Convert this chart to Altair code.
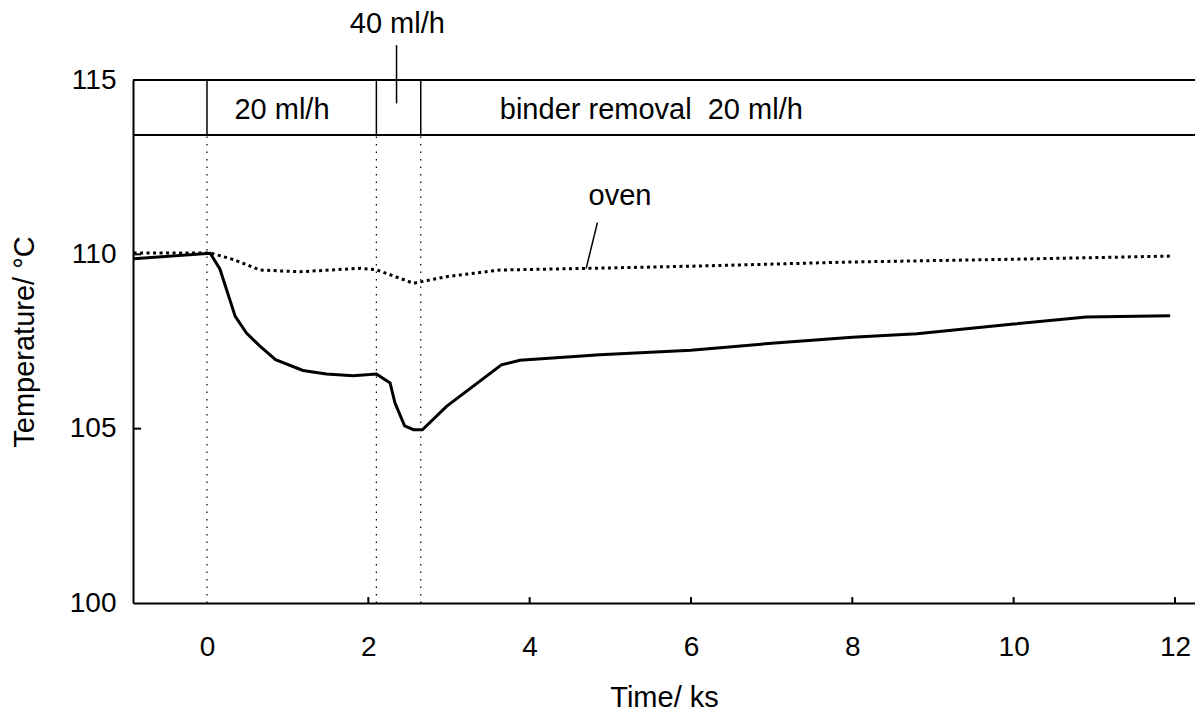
import altair as alt
import pandas as pd

# ---- data ----
sample_t = [-0.91, 0.04, 0.16, 0.35, 0.49, 0.66, 0.85, 1.19, 1.48, 1.81, 2.10, 2.27, 2.33, 2.45,
            2.56, 2.67, 2.97, 3.65, 3.88, 4.87, 6.0, 7.0, 8.0, 8.8, 10.0, 10.9, 11.94]
sample_temp = [109.87, 110.03, 109.58, 108.22, 107.74, 107.36, 106.98, 106.67, 106.57, 106.52,
               106.57, 106.31, 105.74, 105.08, 104.97, 104.97, 105.64, 106.83, 106.96, 107.12,
               107.25, 107.45, 107.62, 107.72, 108.0, 108.2, 108.24]

oven_t = [-0.91, 0.04, 0.33, 0.66, 1.15, 1.90, 2.10, 2.56, 2.97, 3.63, 4.79, 6.0, 8.0, 10.0, 11.94]
oven_temp = [110.04, 110.04, 109.85, 109.55, 109.5, 109.6, 109.56, 109.17, 109.36, 109.55,
             109.6, 109.66, 109.78, 109.86, 109.95]

phase_bounds = [0.0, 2.1, 2.65]
x_ticks = [0, 2, 4, 6, 8, 10, 12]
y_ticks = [100, 105, 110, 115]
x_min, x_max = -0.917, 12.248
y_min, y_max = 100, 115
band_bottom = 113.42

labels = ["40 ml/h", "20 ml/h", "binder removal\u00a0 20 ml/h", "oven"]
label_x = [2.36, 0.93, 3.63, 5.12]
label_y = [116.35, 113.88, 113.88, 111.42]
label_align = ["center", "center", "left", "center"]

FONT = "Liberation Sans"

xs = alt.Scale(domain=[x_min, x_max], nice=False, zero=False)
ys = alt.Scale(domain=[y_min, y_max], nice=False, zero=False)
X = alt.X("x:Q", scale=xs, axis=alt.Axis(values=x_ticks, ticks=False, grid=False, domainColor="black",
                                         domainWidth=2, labelFontSize=28, labelFont=FONT,
                                         labelColor="black", labelPadding=30, title="Time/ ks",
                                         titleFont=FONT, titleFontSize=29, titleFontWeight="normal",
                                         titleColor="black", titlePadding=22))
Y = alt.Y("y:Q", scale=ys, axis=alt.Axis(values=y_ticks, ticks=False, grid=False, domainColor="black",
                                         domainWidth=2, labelFontSize=28, labelFont=FONT,
                                         labelColor="black", labelPadding=17,
                                         title="Temperature/ °C", titleFont=FONT, titleFontSize=29,
                                         titleFontWeight="normal", titleColor="black", titlePadding=30))

sample_df = pd.DataFrame({"x": sample_t, "y": sample_temp})
oven_df = pd.DataFrame({"x": oven_t, "y": oven_temp})

sample_line = alt.Chart(sample_df).mark_line(color="black", strokeWidth=3).encode(x=X, y=Y)
oven_line = alt.Chart(oven_df).mark_line(color="black", strokeWidth=3, strokeDash=[3, 3.5]).encode(x=X, y=Y)

# top band horizontal lines
band_h = pd.DataFrame({"x": [x_min, x_min], "x2": [x_max, x_max], "y": [y_max, band_bottom]})
band_lines = alt.Chart(band_h).mark_rule(color="black", strokeWidth=2).encode(
    x=X, x2="x2:Q", y=Y)

# band separators
sep_df = pd.DataFrame({"x": phase_bounds, "y": [band_bottom] * 3, "y2": [y_max] * 3})
sep_lines = alt.Chart(sep_df).mark_rule(color="black", strokeWidth=1.5).encode(x=X, y=Y, y2="y2:Q")

# dotted verticals
dot_df = pd.DataFrame({"x": phase_bounds, "y": [y_min] * 3, "y2": [band_bottom] * 3})
dot_lines = alt.Chart(dot_df).mark_rule(color="black", strokeWidth=1.2, strokeDash=[1.5, 6]).encode(
    x=X, y=Y, y2="y2:Q")

# inward ticks
xt_df = pd.DataFrame({"x": x_ticks[1:], "y": [y_min] * 6, "y2": [y_min + 0.17] * 6})
xt = alt.Chart(xt_df).mark_rule(color="black", strokeWidth=2).encode(x=X, y=Y, y2="y2:Q")
yt_df = pd.DataFrame({"x": [x_min, x_min], "x2": [x_min + 0.1, x_min + 0.1], "y": [105, 110]})
yt = alt.Chart(yt_df).mark_rule(color="black", strokeWidth=2).encode(x=X, x2="x2:Q", y=Y)

# leader lines
lead_df = pd.DataFrame({"x": [2.35, 4.84], "x2": [2.35, 4.70], "y": [116.0, 110.91], "y2": [114.33, 109.59]})
leaders = alt.Chart(lead_df).mark_rule(color="black", strokeWidth=1.5).encode(
    x=X, x2="x2:Q", y=Y, y2="y2:Q")

# text labels
lab_df = pd.DataFrame({"x": label_x, "y": label_y, "text": labels, "align": label_align})
text_c = alt.Chart(lab_df[lab_df["align"] == "center"]).mark_text(
    font=FONT, fontSize=29, color="black", align="center", baseline="alphabetic").encode(
    x=X, y=Y, text="text:N")
text_l = alt.Chart(lab_df[lab_df["align"] == "left"]).mark_text(
    font=FONT, fontSize=29, color="black", align="left", baseline="alphabetic").encode(
    x=X, y=Y, text="text:N")

chart = alt.layer(
    dot_lines, band_lines, sep_lines, xt, yt, leaders, oven_line, sample_line, text_c, text_l
).properties(
    width=1062, height=523,
    autosize=alt.AutoSizeParams(type="none"),
    padding={"left": 125, "top": 72, "right": 0, "bottom": 110},
).configure_view(stroke=None).configure(background="white")

chart.save("out.html", embed_options={"renderer": "svg", "actions": False})
